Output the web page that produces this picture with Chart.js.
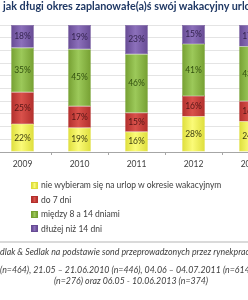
<!DOCTYPE html>
<html>
<head>
<meta charset="utf-8">
<script src="https://cdn.jsdelivr.net/npm/chart.js@4/dist/chart.umd.min.js"></script>
<style>
body{margin:0;width:248px;height:300px;overflow:hidden;background:#fff;position:relative;font-family:Lato,sans-serif}
#title{position:absolute;left:3px;top:-1px;white-space:nowrap;font-weight:bold;font-size:10.8px;color:#1f3864;z-index:2}
#wrap{position:absolute;left:-6px;top:0;width:285px;height:180px}
#legend{position:absolute;left:31px;top:178px;font-size:8.5px;color:#404040}
.item{height:14.5px;display:flex;align-items:center;white-space:nowrap}
.sq{width:5px;height:5px;margin-right:3px}
#rule{position:absolute;left:0;top:241px;width:248px;height:2px;background:#dadada}
.foot{position:absolute;white-space:nowrap;font-style:italic;font-size:8.8px;color:#404040}
</style>
</head>
<body>
<div id="title">jak długi okres zaplanowałe(a)ś swój wakacyjny urlop?</div>
<div id="wrap"><canvas id="chart"></canvas></div>
<div id="legend"></div>
<div id="rule"></div>
<div class="foot" style="left:0;top:246px">dlak &amp; Sedlak na podstawie sond przeprowadzonych przez rynekpracy.pl</div>
<div class="foot" style="left:0;top:264px">(n=464), 21.05 – 21.06.2010 (n=446), 04.06 – 04.07.2011 (n=614),</div>
<div class="foot" style="left:0;width:262px;text-align:center;top:275px">(n=276) oraz 06.05 - 10.06.2013 (n=374)</div>
<script>
const years = ['2009', '2010', '2011', '2012', '2013'];
const seriesNames = ['nie wybieram się na urlop w okresie wakacyjnym', 'do 7 dni', 'między 8 a 14 dniami', 'dłużej niż 14 dni'];
const nieWybieram = [22, 19, 16, 28, 24];
const do7dni = [25, 17, 15, 16, 16];
const miedzy8a14 = [35, 45, 46, 41, 43];
const dluzejNiz14 = [18, 19, 23, 15, 17];

// edge colour, centre colour, label colour
const palette = [
    ['#dede3c', '#fbfb78', '#3d3d10'],
    ['#b22f2c', '#d9514b', '#561716'],
    ['#76a032', '#9cc95a', '#32500f'],
    ['#674b94', '#8c70bb', '#34244f']
];

function barFill(i) {
    return function (ctx) {
        const chart = ctx.chart;
        const area = chart.chartArea;
        if (!area) return palette[i][1];
        const x = chart.scales.x.getPixelForValue(ctx.dataIndex);
        const w = (area.right - area.left) / years.length * 0.4 / 2;
        const g = chart.ctx.createLinearGradient(x - w, 0, x + w, 0);
        g.addColorStop(0, palette[i][0]);
        g.addColorStop(0.45, palette[i][1]);
        g.addColorStop(1, palette[i][0]);
        return g;
    };
}

const seriesValues = [nieWybieram, do7dni, miedzy8a14, dluzejNiz14];

const datasets = seriesValues.map(function (values, i) {
    return {
        label: seriesNames[i],
        data: values,
        backgroundColor: barFill(i),
        borderColor: palette[i][0],
        borderWidth: 0.5,
        borderSkipped: false,
        barPercentage: 0.4,
        categoryPercentage: 1
    };
});

const labelPlugin = {
    id: 'segmentLabels',
    afterDatasetsDraw(chart) {
        const c = chart.ctx;
        c.save();
        c.font = '8.5px Lato';
        c.textAlign = 'center';
        c.textBaseline = 'middle';
        chart.data.datasets.forEach(function (ds, i) {
            chart.getDatasetMeta(i).data.forEach(function (bar, j) {
                c.fillStyle = palette[i][2];
                c.fillText(ds.data[j] + '%', bar.x, (bar.y + bar.base) / 2);
            });
        });
        c.restore();
    }
};

new Chart(document.getElementById('chart'), {
    type: 'bar',
    data: { labels: years, datasets: datasets },
    options: {
        responsive: true,
        maintainAspectRatio: false,
        animation: false,
        layout: { padding: { top: 25, bottom: 8, left: 0, right: 0 } },
        plugins: { legend: { display: false }, tooltip: { enabled: false } },
        scales: {
            x: {
                stacked: true,
                afterFit: function (s) { s.height = 20; },
                grid: { offset: true, drawOnChartArea: false, tickLength: 3, color: '#a6a6a6' },
                border: { color: '#a6a6a6' },
                ticks: { color: '#404040', font: { family: 'Lato', size: 8.5 }, padding: 4 }
            },
            y: {
                stacked: true,
                min: 0,
                max: 100,
                afterFit: function (s) { s.width = 0; },
                ticks: { display: false, stepSize: 10 },
                grid: { color: '#e4e4e4', drawTicks: false },
                border: { display: false }
            }
        }
    },
    plugins: [labelPlugin]
});

const legend = document.getElementById('legend');
seriesNames.forEach(function (name, i) {
    const row = document.createElement('div');
    row.className = 'item';
    const sq = document.createElement('span');
    sq.className = 'sq';
    sq.style.background = 'linear-gradient(90deg,' + palette[i][0] + ',' + palette[i][1] + ',' + palette[i][0] + ')';
    sq.style.border = '0.5px solid ' + palette[i][0];
    row.appendChild(sq);
    row.appendChild(document.createTextNode(name));
    legend.appendChild(row);
});
</script>
</body>
</html>
